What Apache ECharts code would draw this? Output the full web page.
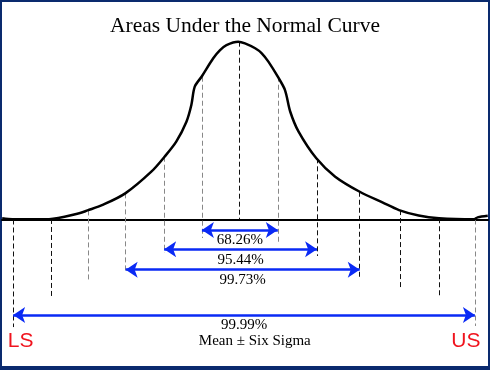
<!DOCTYPE html>
<html><head><meta charset="utf-8">
<script src="https://cdn.jsdelivr.net/npm/echarts@6/dist/echarts.min.js"></script>
<style>html,body{margin:0;padding:0;background:#0a2a6e}#c{width:490px;height:370px}</style>
</head><body><div id="c"></div>
<script>
// ---- data (x in sigma units, y in % of peak height) ----
const titleText = 'Areas Under the Normal Curve';
const curveX = [-6.29, -6.02, -5.05, -4.25, -4.03, -3.63, -3.03, -2.34, -1.99, -1.68, -1.41, -1.28, -1.19, -1.01, -0.70, -0.52, -0.35, -0.04, 0.14, 0.41, 0.585, 0.76, 1.01, 1.20, 1.34, 1.56, 2.03, 2.53, 3.18, 3.78, 4.22, 4.74, 5.28, 6.21, 6.30, 6.57];
const curveY = [0.7, 0.2, 0.2, 3.5, 5.1, 8.2, 14.7, 26.9, 35.3, 43.8, 55.0, 64.4, 74.7, 80.3, 90.7, 95.3, 98.1, 100, 99.1, 96.3, 93.5, 88.8, 80.3, 72.8, 60.6, 49.4, 34.4, 24.1, 15.6, 9.6, 5.3, 2.25, 0.7, 0.1, 1.2, 2.1];
const sigmaX = [-6.0, -5.0, -4.01, -3.02, -2.0, -1.0, 0, 1.01, 2.05, 3.18, 4.26, 5.29, 6.23];
const lineTop = [0, 0.3, 5.1, 14.7, 35.3, 80.3, 100, 80.3, 34.4, 15.6, 5.3, 0.7, 0];
const lineBottom = [-60.5, -44.2, -34.0, -29.5, -18.8, -10.4, 0, -13.2, -20.5, -32.3, -38.0, -43.6, -59.9];
const arrowFrom = [-1.0, -2.0, -3.02, -6.0];
const arrowTo = [1.01, 2.05, 3.18, 6.23];
const arrowLabels = ['68.26%', '95.44%', '99.73%', '99.99%'];
const subLabel = 'Mean \u00b1 Six Sigma';
const limitLabels = ['LS', 'US'];

// ---- layout / style (not data) ----
const arrowLevel = [-5.9, -16.8, -28.2, -53.7];
const labelDrop = 5.9;
const subLabelPos = [0.40, -68.1];
const limitPos = [[-5.80, -68.7], [5.99, -68.3]];
const dashTone = ['#111', '#111', '#888', '#888', '#888', '#888', '#111', '#888', '#111', '#111', '#111', '#111', '#888'];
const blue = '#0a2af5';
const red = '#f0141e';
const serif = '"Liberation Serif", "Times New Roman", serif';
const sans = '"Liberation Sans", Arial, sans-serif';

const chart = echarts.init(document.getElementById('c'), null, {renderer: 'canvas'});

const curveData = curveX.map((x, i) => [x, curveY[i]]);
const dashData = sigmaX.map((x, i) => ({
  coords: [[x, lineTop[i]], [x, lineBottom[i]]],
  lineStyle: {color: dashTone[i]}
}));
const arrowData = arrowFrom.map((x, i) => ({coords: [[x, arrowLevel[i]], [arrowTo[i], arrowLevel[i]]]}));

const textItems = [];
arrowLabels.forEach((t, i) => {
  textItems.push({pos: [(arrowFrom[i] + arrowTo[i]) / 2, arrowLevel[i] - labelDrop], text: t, font: serif, size: 15, color: '#000'});
});
textItems.push({pos: subLabelPos, text: subLabel, font: serif, size: 15, color: '#000'});
limitLabels.forEach((t, i) => {
  textItems.push({pos: limitPos[i], text: t, font: sans, size: 21, color: red});
});

chart.setOption({
  backgroundColor: '#0a2a6e',
  animation: false,
  title: {
    text: titleText, left: 'center', top: 10,
    textStyle: {fontFamily: serif, fontSize: 21.5, fontWeight: 'normal', color: '#000'}
  },
  grid: {left: 2, right: 2, top: 2, bottom: 4, show: true, backgroundColor: '#fff', borderWidth: 0},
  xAxis: {
    type: 'value', min: -6.295, max: 6.577,
    axisLine: {show: true, onZero: true, lineStyle: {color: '#000', width: 2}},
    axisTick: {show: false}, axisLabel: {show: false}, splitLine: {show: false}
  },
  yAxis: {
    type: 'value', min: -82.4, max: 122.33, show: false,
    axisLine: {show: false}, splitLine: {show: false}
  },
  series: [
    {
      type: 'lines', coordinateSystem: 'cartesian2d', data: dashData, z: 2,
      lineStyle: {width: 1, type: [5, 3], opacity: 1}, symbol: 'none', silent: true
    },
    {
      type: 'line', data: curveData, smooth: 0.3, showSymbol: false, z: 4,
      lineStyle: {color: '#000', width: 2.5}, silent: true
    },
    {
      type: 'lines', coordinateSystem: 'cartesian2d', data: arrowData, z: 5,
      symbol: ['arrow', 'arrow'], symbolSize: 12,
      lineStyle: {color: blue, width: 2.5, opacity: 1}, itemStyle: {color: blue}, silent: true
    }
  ]
});

chart.setOption({
  graphic: textItems.map(t => {
    const p = chart.convertToPixel({gridIndex: 0}, t.pos);
    return {
      type: 'text', x: p[0], y: p[1], z: 10, silent: true,
      style: {text: t.text, fill: t.color, font: t.size + 'px ' + t.font, align: 'center', verticalAlign: 'middle'}
    };
  })
});
</script>
</body></html>
